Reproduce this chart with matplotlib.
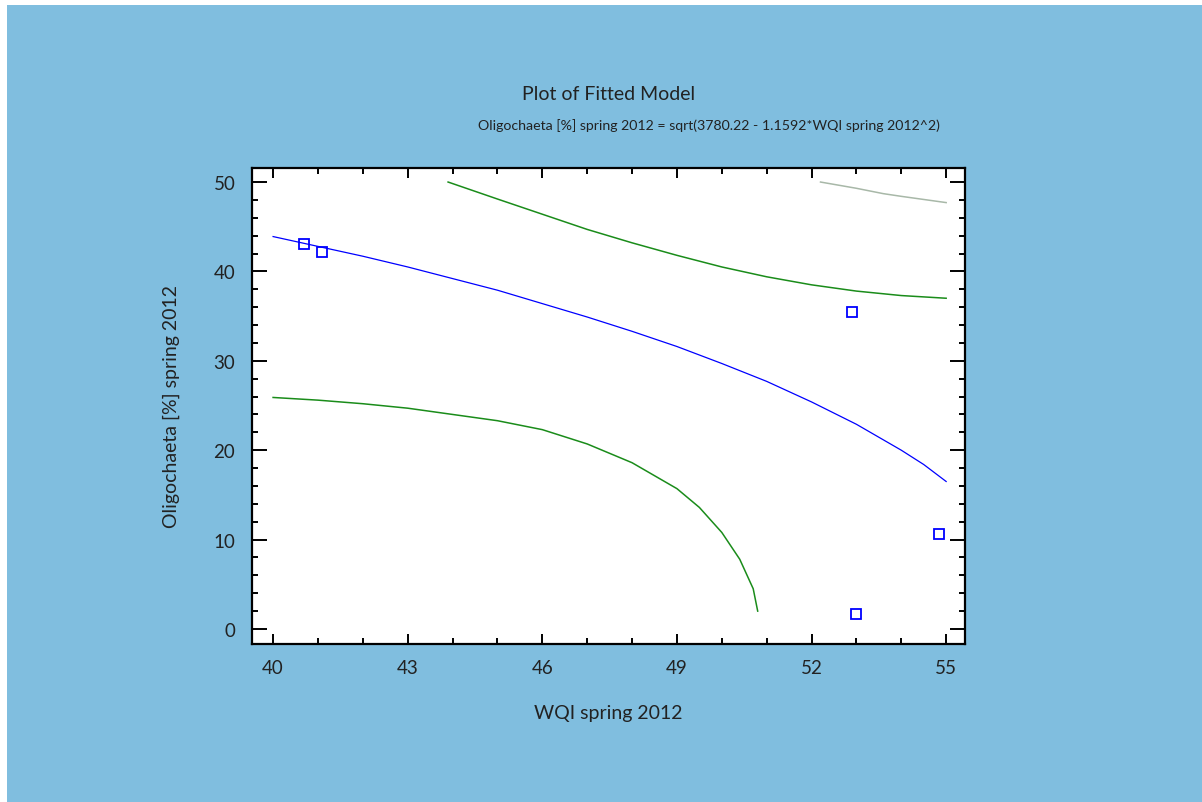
import numpy as np
import matplotlib.pyplot as plt
from matplotlib.patches import Rectangle
from matplotlib.ticker import MultipleLocator

# observed points
wqi = [40.7, 41.1, 52.9, 53.0, 54.85]
oligo = [43.1, 42.2, 35.5, 1.7, 10.65]

# fitted model
fit_x = [40, 41, 42, 43, 44, 45, 46, 47, 48, 49, 50, 51, 52, 53, 54, 54.5, 55]
fit_y = [43.9, 42.8, 41.7, 40.5, 39.2, 37.9, 36.4, 34.9, 33.3, 31.6, 29.7, 27.7, 25.4, 22.9, 20.0, 18.4, 16.5]

# upper / lower limits (green)
up_x = [43.9, 45, 46, 47, 48, 49, 50, 51, 52, 53, 54, 55]
up_y = [50.0, 48.1, 46.4, 44.7, 43.2, 41.8, 40.5, 39.4, 38.5, 37.8, 37.3, 37.0]
lo_x = [40, 41, 42, 43, 44, 45, 46, 47, 48, 49, 49.5, 50, 50.4, 50.7, 50.8]
lo_y = [25.9, 25.6, 25.2, 24.7, 24.0, 23.3, 22.3, 20.7, 18.6, 15.7, 13.6, 10.8, 7.8, 4.5, 2.0]

# outer limit (grey)
gr_x = [52.2, 53, 53.6, 54, 55]
gr_y = [50.0, 49.3, 48.7, 48.4, 47.7]

xticks = [40, 43, 46, 49, 52, 55]
yticks = [0, 10, 20, 30, 40, 50]

plt.rcParams['font.family'] = ['Lato', 'DejaVu Sans']

fig = plt.figure(figsize=(12.02, 8.03), dpi=100, facecolor='white')
bg = Rectangle((7 / 1202, 0), 1 - 7 / 1202, 1 - 6 / 803, transform=fig.transFigure,
               facecolor='#80bedf', edgecolor='none', zorder=-5)
fig.add_artist(bg)

ax = fig.add_axes([252 / 1202, 1 - 645 / 803, (965 - 252) / 1202, (645 - 169) / 803])
ax.set_facecolor('white')

ax.plot(fit_x, fit_y, color='#0000ff', lw=0.9)
ax.plot(up_x, up_y, color='#1a8c1a', lw=1.1)
ax.plot(lo_x, lo_y, color='#1a8c1a', lw=1.1)
ax.plot(gr_x, gr_y, color='#a8b8a8', lw=1.1)
ax.plot(wqi, oligo, 's', ms=7, mfc='none', mec='#0000ff', mew=1.3)

ax.set_xlim(39.53, 55.42)
ax.set_ylim(-1.68, 51.57)
ax.set_xticks(xticks)
ax.set_yticks(yticks)
ax.xaxis.set_minor_locator(MultipleLocator(1))
ax.yaxis.set_minor_locator(MultipleLocator(2))
ax.tick_params(which='both', direction='in', top=True, right=True, width=1.4, colors='black',
               labelsize=13.5, labelcolor='#222222')
ax.tick_params(axis='x', which='major', length=7, pad=11)
ax.tick_params(axis='y', which='major', length=11, pad=12)
ax.tick_params(which='minor', length=4.5)
for s in ax.spines.values():
    s.set_linewidth(1.6)

ax.set_xlabel('WQI spring 2012', fontsize=14, color='#222222', labelpad=20)
ax.set_ylabel('Oligochaeta [%] spring 2012', fontsize=14, color='#222222', labelpad=24)

fig.text(609 / 1202, 1 - 95 / 803, 'Plot of Fitted Model', ha='center', va='center',
         fontsize=14, color='#222222')
fig.text(709 / 1202, 1 - 126 / 803, 'Oligochaeta [%] spring 2012 = sqrt(3780.22 - 1.1592*WQI spring 2012^2)',
         ha='center', va='center', fontsize=10.2, color='#222222')

fig.savefig('out.png', dpi=100, facecolor=fig.get_facecolor())
